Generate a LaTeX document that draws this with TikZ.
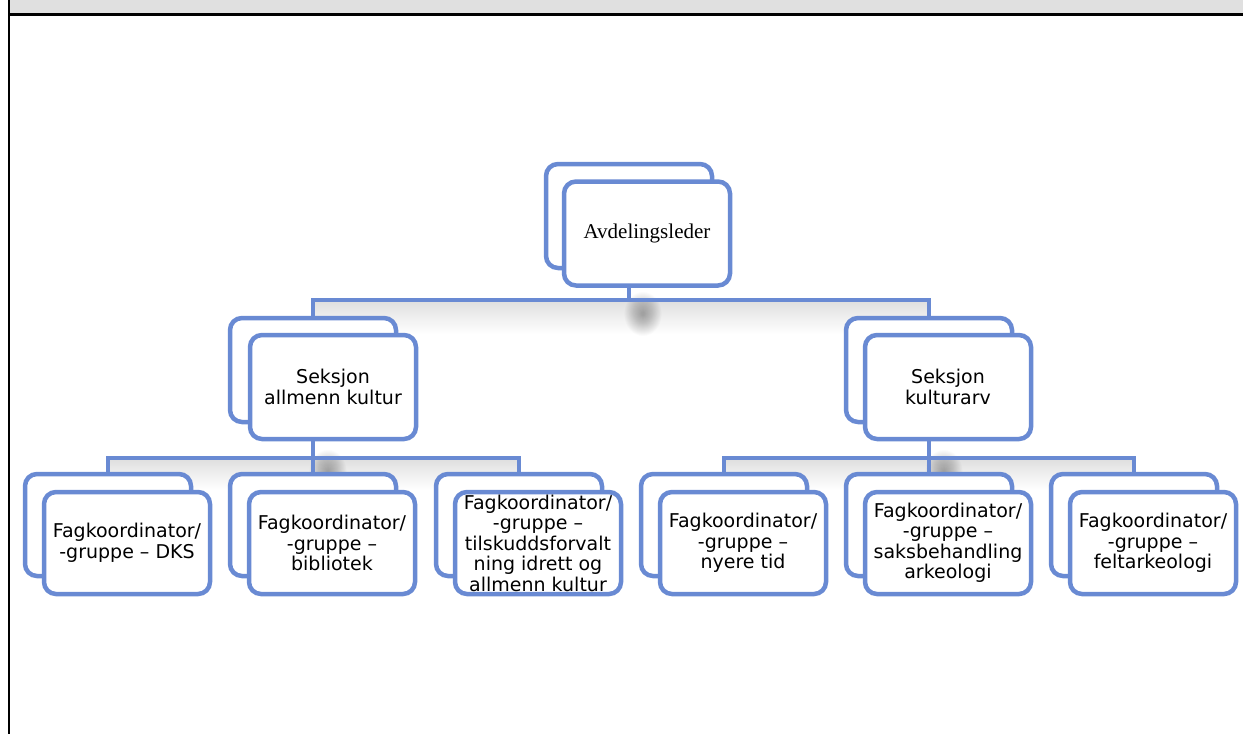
\documentclass[tikz,border=0pt]{standalone}
\usepackage{fontspec}
\setmainfont{DejaVu Sans}
\newfontfamily\avdfont{Liberation Serif}
\usetikzlibrary{backgrounds}
\definecolor{boxblue}{RGB}{105,138,211}
\definecolor{bandgray}{RGB}{224,224,224}
\begin{document}
\begin{tikzpicture}[x=1pt,y=-1pt,
  orgbox/.style={draw=boxblue, line width=4.5pt, fill=white, rounded corners=12pt,
    minimum width=166pt, minimum height=102pt, inner sep=0pt, align=center,
    font=\fontsize{19}{20.5}\selectfont},
  conn/.style={draw=boxblue, line width=4.5pt},
  shadowband/.style={top color=black!12, bottom color=white, draw=none}]
\useasboundingbox (0,0) rectangle (1243,734);
% frame
\fill[bandgray] (8,0) rectangle (1243,13);
\draw[line width=3pt] (8,14) -- (1243,14);
\draw[line width=2pt] (8.5,0) -- (8.5,734);
% level 1
\node[orgbox, minimum height=104pt] (b0) at (629,216) {};
\node[orgbox, minimum height=104pt] (f0) at (647,233.5) {\avdfont\fontsize{21}{24}\selectfont Avdelingsleder};
% level 2
\node[orgbox, minimum height=104pt] (bL) at (313,370) {};
\node[orgbox, minimum height=104pt] (fL) at (333,387) {Seksjon\\allmenn kultur};
\node[orgbox, minimum height=104pt] (bR) at (929,370) {};
\node[orgbox, minimum height=104pt] (fR) at (948,387) {Seksjon\\kulturarv};
% level 3
\node[orgbox] (b1) at (108,525) {};
\node[orgbox] (f1) at (127,543) {Fagkoordinator/\\-gruppe – DKS};
\node[orgbox] (b2) at (313,525) {};
\node[orgbox] (f2) at (332,543) {Fagkoordinator/\\-gruppe –\\bibliotek};
\node[orgbox] (b3) at (519,525) {};
\node[orgbox] (f3) at (538,543) {Fagkoordinator/\\-gruppe –\\tilskuddsforvalt\\ning idrett og\\allmenn kultur};
\node[orgbox] (b4) at (724,525) {};
\node[orgbox] (f4) at (743,543) {Fagkoordinator/\\-gruppe –\\nyere tid};
\node[orgbox] (b5) at (929,525) {};
\node[orgbox] (f5) at (948,543) {Fagkoordinator/\\-gruppe –\\saksbehandling\\arkeologi};
\node[orgbox] (b6) at (1134,525) {};
\node[orgbox] (f6) at (1153,543) {Fagkoordinator/\\-gruppe –\\feltarkeologi};
\coordinate (h0) at (0,300);
\coordinate (h1) at (0,458);
\coordinate (s0) at (643,314);
\coordinate (s1) at (328,472);
\coordinate (s2) at (944,472);
\begin{scope}[on background layer]
  % shadows
  \shade[shadowband] (313,302) rectangle (929,334);
  \shade[shadowband] (108,460) rectangle (519,490);
  \shade[shadowband] (724,460) rectangle (1134,490);
  \foreach \c in {s0,s1,s2}{
    \foreach \r in {2,3,...,22}{
      \fill[black, fill opacity=0.016] (\c) ellipse ({\r*0.85} and \r);
    }
  }
  % connectors
  \draw[conn] (b0 |- f0.south) -- (b0 |- h0);
  \draw[conn] (bL.north) -- (bL |- h0) -- (bR |- h0) -- (bR.north);
  \draw[conn] (bL |- fL.south) -- (b2.north);
  \draw[conn] (b1.north) -- (b1 |- h1) -- (b3 |- h1) -- (b3.north);
  \draw[conn] (bR |- fR.south) -- (b5.north);
  \draw[conn] (b4.north) -- (b4 |- h1) -- (b6 |- h1) -- (b6.north);
\end{scope}
\end{tikzpicture}
\end{document}
